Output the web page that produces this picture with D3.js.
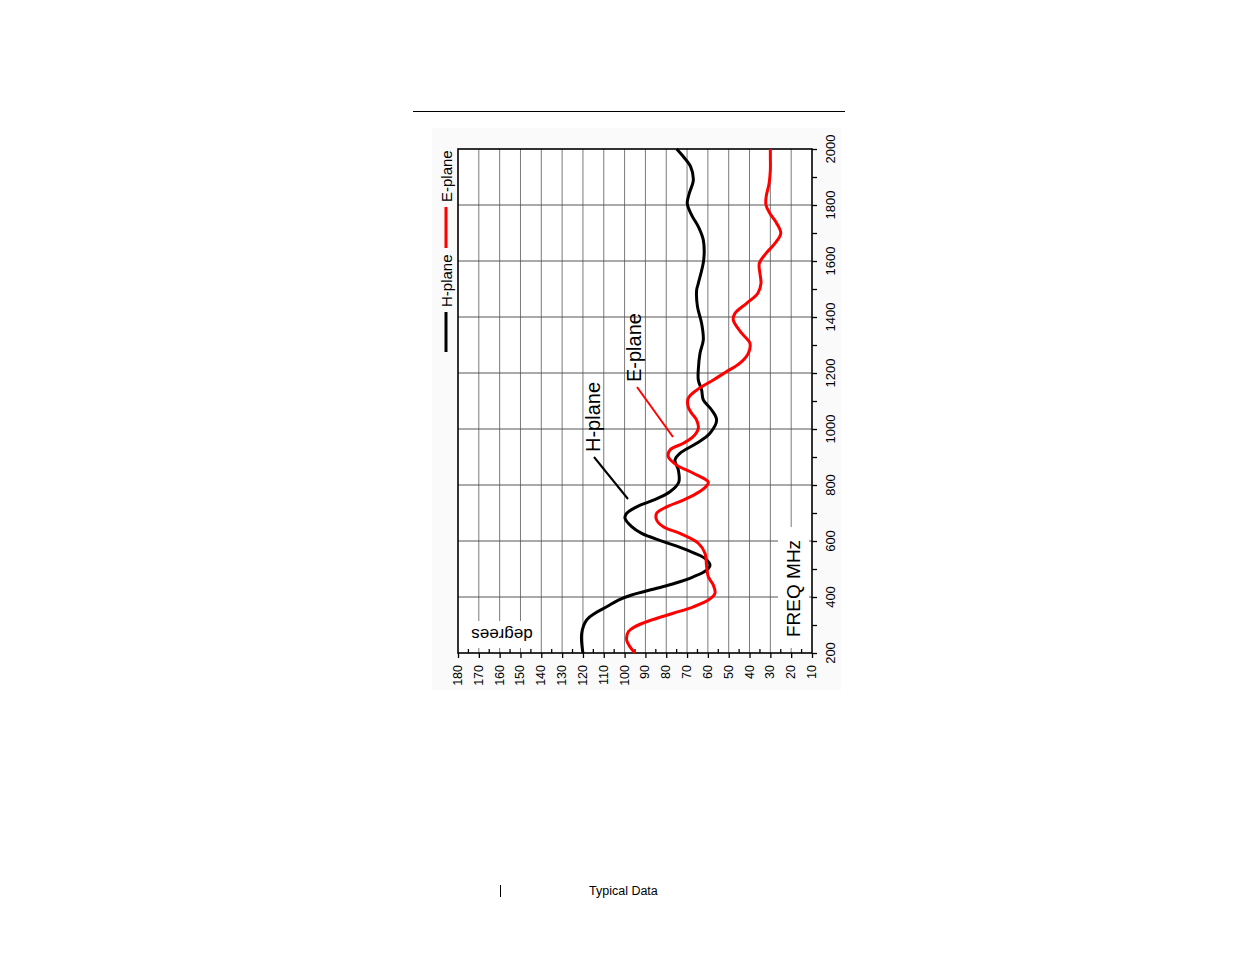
<!DOCTYPE html>
<html><head><meta charset="utf-8">
<script src="https://cdn.jsdelivr.net/npm/d3@7"></script>
<style>
html,body{margin:0;padding:0;background:#fff;}
svg{display:block;font-family:"Liberation Sans",Arial,sans-serif;}
</style></head>
<body>
<svg id="chart" width="1235" height="954"></svg>
<script>
// ---- data ----
const degTicks = [180,170,160,150,140,130,120,110,100,90,80,70,60,50,40,30,20,10];
const freqTicks = [200,400,600,800,1000,1200,1400,1600,1800,2000];
const hFreq = [200,270,318,342,365,389,407,431,449,472,496,514,538,568,598,627,651,681,699,722,746,776,810,854,889,913,949,985,1032,1068,1104,1139,1175,1211,1270,1318,1377,1437,1496,1520,1604,1675,1723,1764,1806,1842,1889,1937,1973,2000];
const hDeg  = [120,120.6,118.2,114.2,108.6,103,96.6,84.6,75.8,67,60.6,59,61.4,70.2,81.4,91.8,96.6,99.8,99,94.2,86.2,78.2,74,74.2,75.8,73.4,65.4,59,55.8,58.2,62.2,63,64.6,64.6,63.8,62.2,63,65,65.4,64.6,62,62.2,64.6,67.8,69.9,68.9,67,68.3,71.8,75];
const eFreq = [200,222,246,276,294,318,342,365,389,413,443,472,508,556,592,627,651,675,699,722,746,770,794,810,842,871,901,925,949,973,1003,1032,1056,1080,1110,1139,1175,1205,1235,1270,1306,1342,1389,1413,1449,1485,1520,1556,1592,1628,1663,1699,1735,1770,1800,1830,1877,1925,1973,2000];
const eDeg  = [95,97.4,99,98.2,95,87,76.6,67,59.8,56.6,57.4,59.8,60.6,61.4,64.6,73.4,81.4,84.6,84.6,79.8,71.8,65.4,61,59.8,67,75,79,78.2,71.8,67,64.6,65.4,67.8,69.5,69.4,65.4,57.4,51,44.6,40.6,39.8,43.8,47.8,47,41.4,36,34.5,35,35.3,32,27.8,25,27,30.2,32.1,32,30.6,30,30,30];
const seriesNames = ["H-plane","E-plane"];

// ---- layout ----
const svg = d3.select("#chart");
const L = 458, R = 812, T = 149, B = 653;
const x = d3.scaleLinear().domain([180,10]).range([L,R]);
const y = d3.scaleLinear().domain([200,2000]).range([B,T]);

// top rule
svg.append("line").attr("x1",413).attr("x2",845).attr("y1",111.5).attr("y2",111.5)
  .attr("stroke","#000").attr("stroke-width",1);

// light backdrop
svg.append("rect").attr("x",432).attr("y",128).attr("width",409).attr("height",562).attr("fill","#fafafa");
svg.append("rect").attr("x",L).attr("y",T).attr("width",R-L).attr("height",B-T).attr("fill","#fff");

// grid
const g = svg.append("g");
g.selectAll("line.v").data(degTicks.filter(d=>d<180&&d>10)).enter().append("line")
  .attr("x1",d=>x(d)).attr("x2",d=>x(d)).attr("y1",T).attr("y2",B)
  .attr("stroke","#7a7a7a").attr("stroke-width",1);
g.selectAll("line.h").data(freqTicks.filter(d=>d>200&&d<2000)).enter().append("line")
  .attr("x1",L).attr("x2",R).attr("y1",d=>y(d)).attr("y2",d=>y(d))
  .attr("stroke","#555").attr("stroke-width",1);

// label boxes (white) covering grid
svg.append("rect").attr("x",463).attr("y",621).attr("width",74).attr("height",27).attr("fill","#fff");
svg.append("rect").attr("x",778).attr("y",527).attr("width",31).attr("height",121).attr("fill","#fff");

// axes
const ax = svg.append("g").attr("transform",`translate(0,${B})`)
  .call(d3.axisBottom(x).tickValues(degTicks).tickSize(5).tickFormat(""));
ax.select(".domain").remove();
ax.selectAll(".tick line").attr("stroke","#000").attr("stroke-width",1.3);
// minor ticks
svg.append("g").selectAll("line").data(d3.range(175,10,-10)).enter().append("line")
  .attr("x1",d=>x(d)).attr("x2",d=>x(d)).attr("y1",B).attr("y2",B-4)
  .attr("stroke","#000").attr("stroke-width",1.3);
svg.append("g").selectAll("text").data(degTicks).enter().append("text")
  .attr("transform",d=>`translate(${x(d)},665) rotate(-90)`)
  .attr("text-anchor","end").attr("dominant-baseline","central")
  .attr("font-size",12.5).attr("fill","#000").text(d=>d);

const ay = svg.append("g").attr("transform",`translate(${R},0)`)
  .call(d3.axisRight(y).tickValues(d3.range(200,2001,100)).tickSize(5).tickFormat(""));
ay.select(".domain").remove();
ay.selectAll(".tick line").attr("stroke","#000").attr("stroke-width",1.3);
svg.append("g").selectAll("text").data(freqTicks).enter().append("text")
  .attr("transform",d=>`translate(830,${y(d)}) rotate(-90)`)
  .attr("text-anchor","middle").attr("dominant-baseline","central")
  .attr("font-size",13).attr("fill","#000").text(d=>d);

// frame
svg.append("rect").attr("x",L).attr("y",T).attr("width",R-L).attr("height",B-T)
  .attr("fill","none").attr("stroke","#000").attr("stroke-width",1.6);

// curves
const line = d3.line().x(d=>x(d[1])).y(d=>y(d[0])).curve(d3.curveCatmullRom.alpha(0.5));
svg.append("path").datum(hFreq.map((f,i)=>[f,hDeg[i]])).attr("d",line)
  .attr("fill","none").attr("stroke","#000").attr("stroke-width",3);
svg.append("path").datum(eFreq.map((f,i)=>[f,eDeg[i]])).attr("d",line)
  .attr("fill","none").attr("stroke","#ff0000").attr("stroke-width",3);

// axis titles
svg.append("text").attr("transform","translate(502,634) rotate(180)")
  .attr("text-anchor","middle").attr("dominant-baseline","central")
  .attr("font-size",17).text("degrees");
svg.append("text").attr("transform","translate(793,637) rotate(-90)")
  .attr("text-anchor","start").attr("dominant-baseline","central")
  .attr("font-size",19).text("FREQ MHz");

// annotations
svg.append("line").attr("x1",594).attr("y1",457).attr("x2",628).attr("y2",499).attr("stroke","#000").attr("stroke-width",2);
svg.append("text").attr("transform","translate(593,452) rotate(-90)")
  .attr("text-anchor","start").attr("dominant-baseline","central").attr("font-size",20).text(seriesNames[0]);
svg.append("line").attr("x1",637).attr("y1",387).attr("x2",673).attr("y2",437).attr("stroke","#ff0000").attr("stroke-width",2);
svg.append("text").attr("transform","translate(634,382) rotate(-90)")
  .attr("text-anchor","start").attr("dominant-baseline","central").attr("font-size",20).text(seriesNames[1]);

// legend
svg.append("line").attr("x1",446).attr("x2",446).attr("y1",352).attr("y2",312).attr("stroke","#000").attr("stroke-width",3);
svg.append("text").attr("transform","translate(446,307) rotate(-90)")
  .attr("text-anchor","start").attr("dominant-baseline","central").attr("font-size",15).text(seriesNames[0]);
svg.append("line").attr("x1",446).attr("x2",446).attr("y1",248).attr("y2",207).attr("stroke","#ff0000").attr("stroke-width",3);
svg.append("text").attr("transform","translate(446,202) rotate(-90)")
  .attr("text-anchor","start").attr("dominant-baseline","central").attr("font-size",15).text(seriesNames[1]);

// footer
svg.append("line").attr("x1",500.5).attr("x2",500.5).attr("y1",885).attr("y2",897).attr("stroke","#000").attr("stroke-width",1);
svg.append("text").attr("x",589).attr("y",895).attr("font-size",12.5).attr("fill","#000").text("Typical Data");
</script>
</body></html>
